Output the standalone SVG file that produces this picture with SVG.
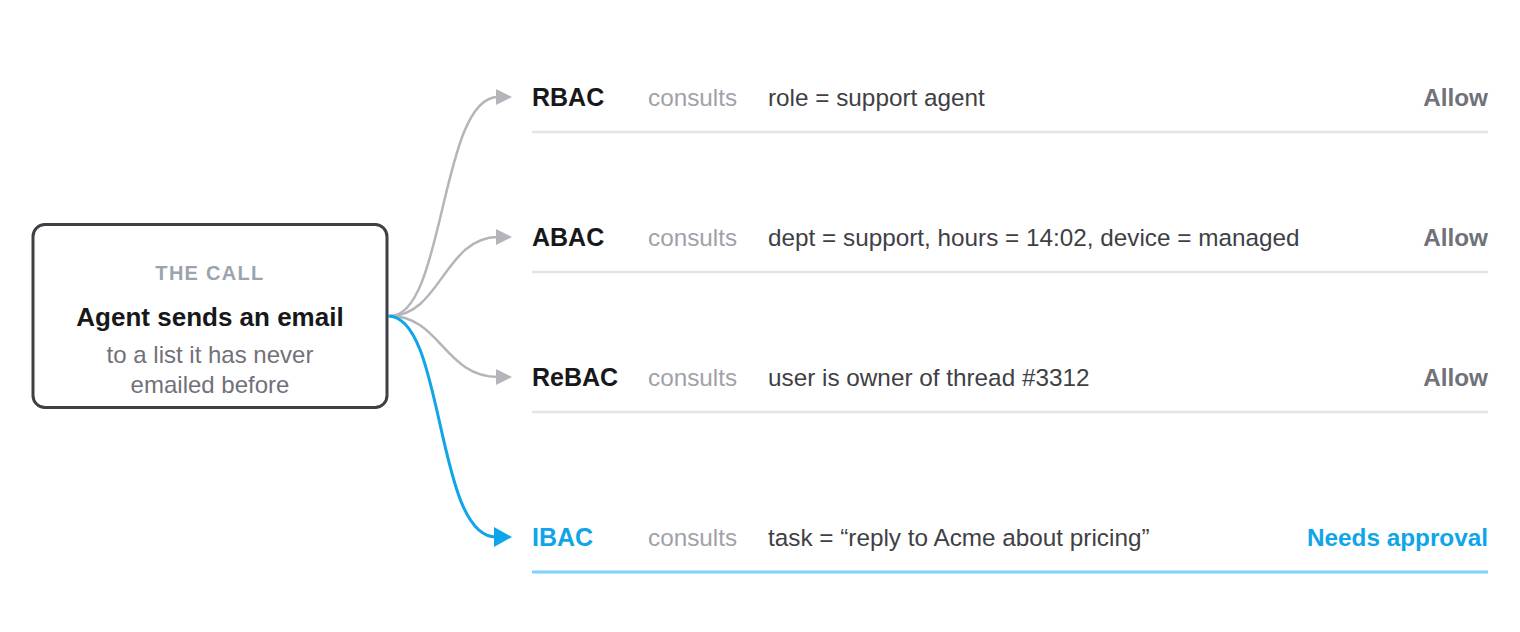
<svg xmlns="http://www.w3.org/2000/svg" width="1520" height="632" viewBox="0 0 1520 632">
<defs>
<marker id="ag" markerUnits="userSpaceOnUse" viewBox="0 0 16 16" refX="2" refY="8" markerWidth="16" markerHeight="16" orient="auto"><path d="M0,0 L16,8 L0,16 z" fill="#b4b4bb"/></marker>
<marker id="ab" markerUnits="userSpaceOnUse" viewBox="0 0 18 20" refX="2" refY="10" markerWidth="18" markerHeight="20" orient="auto"><path d="M0,0 L18,10 L0,20 z" fill="#0ea5e9"/></marker>
</defs>
<style>
text{font-family:"Liberation Sans",Arial,sans-serif}
.name{font-size:25px;font-weight:bold;fill:#18181b}
.cons{font-size:24.3px;fill:#a1a1aa}
.det{font-size:24.3px;fill:#3f3f46}
.res{font-size:24.3px;font-weight:bold;fill:#71717a;text-anchor:end}
.rule{stroke:#e4e4e7;stroke-width:2.5}
.g{fill:none;stroke:#b4b4bb;stroke-width:2.5}
.b{fill:none;stroke:#0ea5e9;stroke-width:3}
.blue{fill:#0ea5e9}
</style>
<rect width="1520" height="632" fill="#ffffff"/>
<g id="call">
<rect x="33" y="224.5" width="354" height="183" rx="12" fill="#ffffff" stroke="#3f3f46" stroke-width="3"/>
<text x="210" y="280" text-anchor="middle" font-size="20" font-weight="bold" fill="#9ca3af" letter-spacing="1.3">THE CALL</text>
<text x="210" y="326" text-anchor="middle" font-size="26" font-weight="bold" fill="#18181b">Agent sends an email</text>
<text x="210" y="363" text-anchor="middle" font-size="24" fill="#71717a">to a list it has never</text>
<text x="210" y="393" text-anchor="middle" font-size="24" fill="#71717a">emailed before</text>
</g>
<g id="connectors">
<path class="g" d="M390,316 C445,316 440,97 498,97" marker-end="url(#ag)"/>
<path class="g" d="M390,316 C440,316 445,237 498,237" marker-end="url(#ag)"/>
<path class="g" d="M390,316 C440,316 445,377 498,377" marker-end="url(#ag)"/>
<path class="b" d="M388,316 C445,316 435,537 496,537" marker-end="url(#ab)"/>
</g>
<g id="rbac">
<text class="name" x="532" y="106">RBAC</text>
<text class="cons" x="648" y="106">consults</text>
<text class="det" x="768" y="106">role = support agent</text>
<text class="res" x="1488" y="106">Allow</text>
<line class="rule" x1="532" y1="132" x2="1488" y2="132"/>
</g>
<g id="abac">
<text class="name" x="532" y="246">ABAC</text>
<text class="cons" x="648" y="246">consults</text>
<text class="det" x="768" y="246">dept = support, hours = 14:02, device = managed</text>
<text class="res" x="1488" y="246">Allow</text>
<line class="rule" x1="532" y1="272" x2="1488" y2="272"/>
</g>
<g id="rebac">
<text class="name" x="532" y="386">ReBAC</text>
<text class="cons" x="648" y="386">consults</text>
<text class="det" x="768" y="386">user is owner of thread #3312</text>
<text class="res" x="1488" y="386">Allow</text>
<line class="rule" x1="532" y1="412" x2="1488" y2="412"/>
</g>
<g id="ibac">
<text class="name blue" x="532" y="546">IBAC</text>
<text class="cons" x="648" y="546">consults</text>
<text class="det" x="768" y="546">task = “reply to Acme about pricing”</text>
<text class="res blue" x="1488" y="546">Needs approval</text>
<line x1="532" y1="572" x2="1488" y2="572" stroke="#7dd3fc" stroke-width="3"/>
</g>
</svg>
